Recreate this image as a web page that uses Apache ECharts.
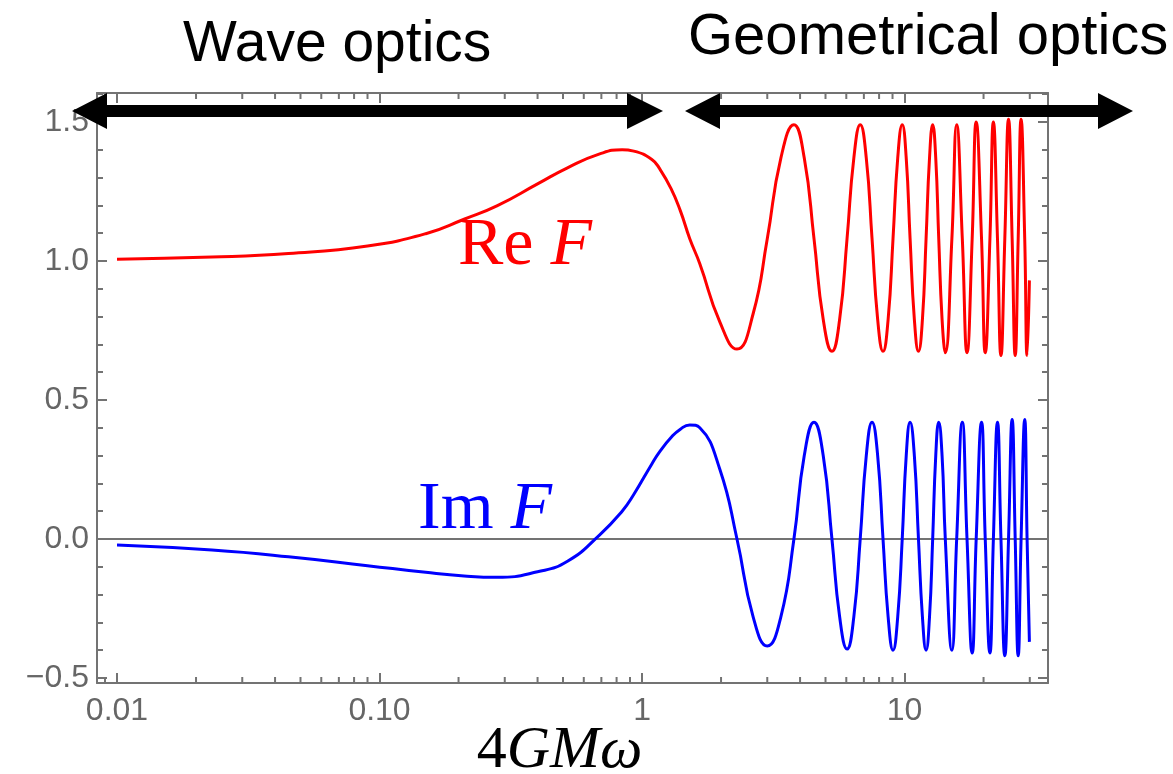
<!DOCTYPE html>
<html lang="en">
<head>
<meta charset="UTF-8">
<title>Re F / Im F</title>
<script src="https://cdn.jsdelivr.net/npm/echarts@6/dist/echarts.min.js"></script>
<style>
  html, body { margin: 0; padding: 0; background: #fff; }
  #chart { width: 1173px; height: 774px; }
</style>
</head>
<body>
<div id="chart"></div>
<script>
// values: 4GMw, Re F, Im F
var omega = [
  0.01, 0.023, 0.045, 0.09, 0.15, 0.21, 0.28, 0.40, 0.52, 0.69,
  0.84, 0.93, 1.09, 1.17, 1.29, 1.40, 1.52, 1.66, 1.98, 2.30,
  2.65, 3.00, 3.38, 3.79, 4.15, 4.52, 4.90, 5.29, 5.66, 6.04,
  6.41, 6.78, 7.15, 7.52, 7.90, 8.28, 8.66, 9.04, 9.42, 9.80,
  10.15, 10.5, 10.9, 11.3, 11.7, 12.08, 12.45, 12.8, 13.15, 13.5,
  13.9, 14.3, 15.15, 15.8, 16.6, 17.3, 18.1, 18.75, 19.65, 20.3,
  21.15, 21.8, 22.6, 23.3, 24.1, 24.9, 25.7, 26.4, 27.1, 27.8,
  28.7, 29.3, 29.9
];
var reF = [
  1.006, 1.014, 1.027, 1.054, 1.098, 1.150, 1.198, 1.277, 1.335, 1.385,
  1.400, 1.395, 1.365, 1.330, 1.260, 1.180, 1.080, 0.990, 0.780, 0.683,
  0.810, 1.080, 1.370, 1.490, 1.370, 1.080, 0.790, 0.675, 0.790, 1.080,
  1.370, 1.490, 1.370, 1.080, 0.790, 0.675, 0.790, 1.080, 1.370, 1.490,
  1.370, 1.080, 0.790, 0.675, 0.790, 1.080, 1.370, 1.490, 1.370, 1.080,
  0.790, 0.670, 1.080, 1.490, 1.080, 0.670, 1.080, 1.500, 1.080, 0.670,
  1.080, 1.500, 1.080, 0.660, 1.080, 1.510, 1.080, 0.660, 1.080, 1.510,
  1.080, 0.660, 0.930
];
var imF = [
  -0.022, -0.040, -0.064, -0.096, -0.120, -0.133, -0.138, -0.118, -0.080, 0.015,
  0.100, 0.160, 0.270, 0.315, 0.365, 0.395, 0.410, 0.400, 0.250, 0.000,
  -0.280, -0.385, -0.280, 0.000, 0.300, 0.420, 0.300, 0.000, -0.280, -0.396,
  -0.280, 0.000, 0.300, 0.420, 0.300, 0.000, -0.280, -0.400, -0.280, 0.000,
  0.300, 0.420, 0.300, 0.000, -0.280, -0.400, -0.280, 0.000, 0.300, 0.420,
  0.300, 0.000, -0.400, 0.000, 0.420, 0.000, -0.410, 0.000, 0.420, 0.000,
  -0.410, 0.000, 0.420, 0.000, -0.420, 0.000, 0.430, 0.000, -0.420, 0.000,
  0.430, 0.000, -0.370
];

var xTickValues = [0.01, 0.1, 1, 10];
var xTickLabels = ['0.01', '0.10', '1', '10'];
var xMinorTicks = [0.009, 0.02, 0.03, 0.04, 0.05, 0.06, 0.07, 0.08, 0.09,
  0.2, 0.3, 0.4, 0.5, 0.6, 0.7, 0.8, 0.9, 2, 3, 4, 5, 6, 7, 8, 9, 20, 30];
var yTickValues = [-0.5, 0, 0.5, 1, 1.5];
var yTickLabels = ['\u22120.5', '0.0', '0.5', '1.0', '1.5'];

var xMin = 0.00839, xMax = 35.2;
var yMin = -0.518, yMax = 1.604;

var frameColor = '#737373';
var labelColor = '#666666';

function pairs(xs, ys) {
  return xs.map(function (x, i) { return [x, ys[i]]; });
}

var myChart = echarts.init(document.getElementById('chart'), null, { renderer: 'canvas' });

var option = {
  animation: false,
  backgroundColor: '#ffffff',
  grid: { left: 97, right: 125, top: 93, bottom: 91, containLabel: false, outerBoundsMode: 'none' },
  xAxis: [{
    type: 'log',
    logBase: 10,
    min: xMin,
    max: xMax,
    position: 'bottom',
    name: '{n|4}{i|GM\u03c9}',
    nameLocation: 'middle',
    nameGap: 38,
    nameMoveOverlap: false,
    nameTextStyle: {
      padding: [0, 26, 0, 0],
      rich: {
        n: { fontFamily: 'Liberation Serif', fontSize: 60, color: '#000' },
        i: { fontFamily: 'Liberation Serif', fontStyle: 'italic', fontSize: 60, color: '#000' }
      }
    },
    axisLine: { show: true, onZero: false, lineStyle: { color: frameColor, width: 2 } },
    axisTick: { show: true, inside: true, length: 10, lineStyle: { color: frameColor, width: 2 } },
    splitLine: { show: false },
    axisLabel: {
      margin: 12,
      color: labelColor,
      fontFamily: 'Liberation Sans',
      fontSize: 32,
      formatter: function (v) {
        for (var i = 0; i < xTickValues.length; i++) {
          if (Math.abs(Math.log10(v) - Math.log10(xTickValues[i])) < 1e-6) return xTickLabels[i];
        }
        return '';
      }
    }
  }, {
    type: 'log',
    logBase: 10,
    min: xMin,
    max: xMax,
    position: 'top',
    axisLine: { show: true, onZero: false, lineStyle: { color: frameColor, width: 2 } },
    axisTick: { show: true, inside: true, length: 10, lineStyle: { color: frameColor, width: 2 } },
    axisLabel: { show: false },
    splitLine: { show: false }
  }],
  yAxis: [{
    type: 'value',
    min: yMin,
    max: yMax,
    splitNumber: 5,
    position: 'left',
    axisLine: { show: true, onZero: false, lineStyle: { color: frameColor, width: 2 } },
    axisTick: { show: true, inside: true, length: 10, lineStyle: { color: frameColor, width: 2 } },
    minorTick: { show: true, splitNumber: 5, length: 6, lineStyle: { color: frameColor, width: 2 } },
    splitLine: { show: false },
    axisLabel: {
      margin: 8,
      color: labelColor,
      fontFamily: 'Liberation Sans',
      fontSize: 32,
      formatter: function (v) {
        for (var i = 0; i < yTickValues.length; i++) {
          if (Math.abs(v - yTickValues[i]) < 1e-6) return yTickLabels[i];
        }
        return '';
      }
    }
  }, {
    type: 'value',
    min: yMin,
    max: yMax,
    splitNumber: 5,
    position: 'right',
    axisLine: { show: true, onZero: false, lineStyle: { color: frameColor, width: 2 } },
    axisTick: { show: true, inside: true, length: 10, lineStyle: { color: frameColor, width: 2 } },
    minorTick: { show: true, splitNumber: 5, length: 6, lineStyle: { color: frameColor, width: 2 } },
    splitLine: { show: false },
    axisLabel: { show: false }
  }],
  series: [{
    // minor log ticks (2..9 per decade), bottom and top
    type: 'custom',
    xAxisIndex: 0,
    yAxisIndex: 0,
    silent: true,
    clip: false,
    z: 3,
    data: xMinorTicks.map(function (v) { return [v, 0]; }),
    renderItem: function (params, api) {
      var v = api.value(0);
      var b = api.coord([v, yMin]);
      var t = api.coord([v, yMax]);
      var st = { stroke: frameColor, lineWidth: 2 };
      return {
        type: 'group',
        children: [
          { type: 'line', shape: { x1: b[0], y1: b[1], x2: b[0], y2: b[1] - 6 }, style: st },
          { type: 'line', shape: { x1: t[0], y1: t[1], x2: t[0], y2: t[1] + 6 }, style: st }
        ]
      };
    }
  }, {
    name: 'Re F',
    type: 'line',
    xAxisIndex: 0,
    yAxisIndex: 0,
    showSymbol: false,
    smooth: true,
    z: 5,
    lineStyle: { color: '#ff0000', width: 3 },
    data: pairs(omega, reF)
  }, {
    name: 'Im F',
    type: 'line',
    xAxisIndex: 0,
    yAxisIndex: 0,
    showSymbol: false,
    smooth: true,
    z: 5,
    lineStyle: { color: '#0000ff', width: 3 },
    data: pairs(omega, imF),
    markLine: {
      silent: true,
      symbol: 'none',
      z: 1,
      label: { show: false },
      lineStyle: { color: frameColor, width: 2, type: 'solid' },
      data: [{ yAxis: 0 }]
    }
  }],
  graphic: [
    {
      type: 'text', left: 183, top: 17, z: 10,
      style: { text: 'Wave optics', fill: '#000', font: '57px "Liberation Sans"' }
    },
    {
      type: 'text', left: 688, top: 9, z: 10,
      style: { text: 'Geometrical optics', fill: '#000', font: '58px "Liberation Sans"' }
    },
    {
      type: 'polygon', z: 10,
      shape: { points: [[72, 111], [107, 93], [107, 105], [627, 105], [627, 93], [663, 111],
        [627, 129], [627, 117], [107, 117], [107, 129]] },
      style: { fill: '#000' }
    },
    {
      type: 'polygon', z: 10,
      shape: { points: [[685, 111], [720, 93], [720, 105], [1098, 105], [1098, 93], [1133, 111],
        [1098, 129], [1098, 117], [720, 117], [720, 129]] },
      style: { fill: '#000' }
    },
    {
      type: 'text', left: 458, top: 212, z: 10,
      style: {
        text: '{r|Re} {i|F}',
        rich: {
          r: { fontFamily: 'Liberation Serif', fontSize: 68, fill: '#ff0000' },
          i: { fontFamily: 'Liberation Serif', fontStyle: 'italic', fontSize: 68, fill: '#ff0000' }
        },
        font: '68px "Liberation Serif"',
        fill: '#ff0000'
      }
    },
    {
      type: 'text', left: 418, top: 476, z: 10,
      style: {
        text: '{r|Im} {i|F}',
        rich: {
          r: { fontFamily: 'Liberation Serif', fontSize: 68, fill: '#0000ff' },
          i: { fontFamily: 'Liberation Serif', fontStyle: 'italic', fontSize: 68, fill: '#0000ff' }
        },
        font: '68px "Liberation Serif"',
        fill: '#0000ff'
      }
    }
  ]
};

myChart.setOption(option);
window.addEventListener('resize', function () {
  myChart.resize();
});
</script>
</body>
</html>
